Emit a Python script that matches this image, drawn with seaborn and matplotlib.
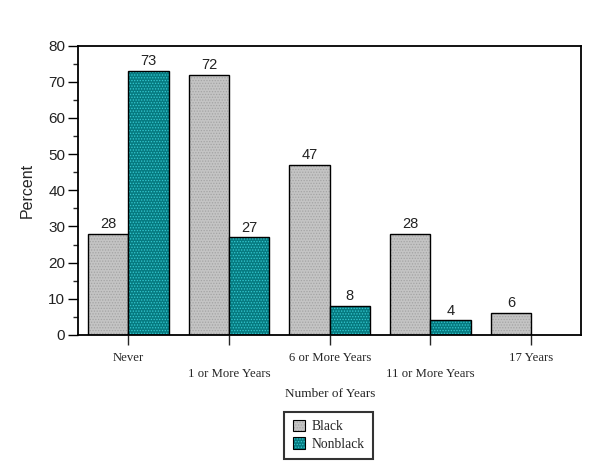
import matplotlib
matplotlib.use("Agg")
import matplotlib.pyplot as plt
import seaborn as sns
import pandas as pd
from matplotlib.ticker import MultipleLocator

categories = ["Never", "1 or More Years", "6 or More Years", "11 or More Years", "17 Years"]
black_values = [28, 72, 47, 28, 6]
nonblack_values = [73, 27, 8, 4, None]
groups = ["Black", "Nonblack"]
y_ticks = [0, 10, 20, 30, 40, 50, 60, 70, 80]

rows = []
for c, b, n in zip(categories, black_values, nonblack_values):
    rows.append({"Years": c, "Group": "Black", "Percent": b})
    if n is not None:
        rows.append({"Years": c, "Group": "Nonblack", "Percent": n})
df = pd.DataFrame(rows)

sns.set_style("white")
plt.rcParams["font.family"] = ["Liberation Sans", "DejaVu Sans"]
plt.rcParams["hatch.linewidth"] = 0.6

fig = plt.figure(figsize=(6.12, 4.71), dpi=100)
ax = fig.add_axes([0.1275, 0.289, 0.8225, 0.614])

palette = {"Black": "#c4c4c4", "Nonblack": "#067a80"}
sns.barplot(data=df, x="Years", y="Percent", hue="Group", order=categories,
            hue_order=groups, palette=palette, width=0.8, ax=ax,
            edgecolor="black", linewidth=1.0, saturation=1, legend=False)

hatch_cols = {"Black": "#a4a4a4", "Nonblack": "#35c8d0"}
for cont, g in zip(ax.containers, groups):
    for patch in cont:
        patch.set_hatch("......")
        patch._hatch_color = matplotlib.colors.to_rgba(hatch_cols[g])
    ax.bar_label(cont, fmt="%d", padding=2, fontsize=10.5, color="#222222")

ax.set_xlim(-0.5, 4.5)
ax.set_ylim(0, 80)
ax.set_yticks(y_ticks)
ax.yaxis.set_minor_locator(MultipleLocator(5))
ax.tick_params(axis="y", which="major", direction="out", length=7.2, width=1,
               labelsize=11, left=True, colors="black", labelcolor="#222222", pad=2)
ax.tick_params(axis="y", which="minor", direction="out", length=3.6, width=1, left=True)
labels = [c if i % 2 == 0 else "\n" + c for i, c in enumerate(categories)]
ax.set_xticks(range(len(categories)))
ax.set_xticklabels(labels, family=["Liberation Serif", "DejaVu Serif"], fontsize=9.2,
                   linespacing=1.45)
ax.tick_params(axis="x", direction="out", length=7.2, width=1, bottom=True, pad=5)

for s in ax.spines.values():
    s.set_visible(True)
    s.set_color("black")
    s.set_linewidth(1.3)

ax.set_ylabel("Percent", fontsize=11.5, labelpad=10)
ax.set_xlabel("Number of Years", family=["Liberation Serif", "DejaVu Serif"],
              fontsize=9.5, labelpad=6)

from matplotlib.patches import Patch
handles = []
for g in groups:
    h = Patch(facecolor=palette[g], edgecolor="black", linewidth=0.8, hatch="......")
    h._hatch_color = matplotlib.colors.to_rgba(hatch_cols[g])
    handles.append(h)
leg = fig.legend(handles, groups, loc="upper center", bbox_to_anchor=(0.537, 0.126),
                 frameon=True, fancybox=False, edgecolor="black",
                 prop={"family": ["Liberation Serif", "DejaVu Serif"], "size": 9.8},
                 handlelength=0.9, handleheight=0.9, handletextpad=0.5,
                 borderpad=0.6, labelspacing=0.3, borderaxespad=0)
leg.get_frame().set_linewidth(1.5)

fig.savefig("out.png", dpi=100)
